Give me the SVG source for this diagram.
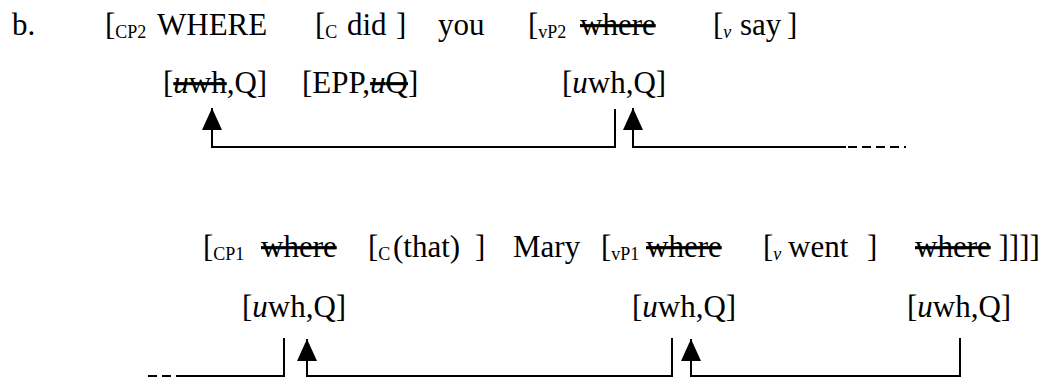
<svg xmlns="http://www.w3.org/2000/svg" width="1047" height="378" viewBox="0 0 1047 378">
<style>
text{font-family:"Liberation Serif","Times New Roman",serif;font-size:31px;fill:#000}
.sub{font-size:18px}
.it{font-style:italic}
.st{text-decoration:line-through}
.ln{fill:none;stroke:#000;stroke-width:2}
.dash{fill:none;stroke:#000;stroke-width:2;stroke-dasharray:9,5}
</style>
<defs>
<marker id="ah" markerUnits="userSpaceOnUse" markerWidth="22" markerHeight="20" viewBox="0 0 22 20" refX="22" refY="10" orient="auto-start-reverse">
<path d="M0,0 L22,10 L0,20 z" fill="#000"/>
</marker>
</defs>
<rect width="1047" height="378" fill="#fff"/>
<g id="label-b"><text x="12" y="35">b.</text></g>
<g id="cp2">
<text x="105" y="35">[<tspan class="sub" dy="3">CP2</tspan><tspan dy="-3" x="157">WHERE</tspan></text>
<text x="163" y="93">[<tspan class="st"><tspan class="it">u</tspan>wh</tspan>,Q]</text>
</g>
<g id="c-did">
<text x="315" y="35">[<tspan class="sub" dy="3">C</tspan><tspan dy="-3" x="347">did</tspan><tspan x="396">]</tspan></text>
<text x="302" y="93">[EPP,<tspan class="st"><tspan class="it">u</tspan>Q</tspan>]</text>
</g>
<g id="you"><text x="438" y="35">you</text></g>
<g id="vp2">
<text x="528" y="35">[<tspan class="sub" dy="3">vP2</tspan><tspan dy="-3" x="580" class="st">where</tspan></text>
<text x="562" y="93">[<tspan class="it">u</tspan>wh,Q]</text>
</g>
<g id="v-say"><text x="713" y="35">[<tspan class="sub it" dy="3">ν</tspan><tspan dy="-3" x="740">say</tspan><tspan x="787">]</tspan></text></g>
<g id="cp1">
<text x="203" y="257">[<tspan class="sub" dy="3">CP1</tspan><tspan dy="-3" x="261" class="st">where</tspan></text>
<text x="242" y="317">[<tspan class="it">u</tspan>wh,Q]</text>
</g>
<g id="c-that"><text x="368" y="257">[<tspan class="sub" dy="3">C</tspan><tspan dy="-3" x="393">(that)</tspan><tspan x="475">]</tspan></text></g>
<g id="mary"><text x="513" y="257">Mary</text></g>
<g id="vp1">
<text x="601" y="257">[<tspan class="sub" dy="3">vP1</tspan><tspan dy="-3" x="646" class="st">where</tspan></text>
<text x="632" y="317">[<tspan class="it">u</tspan>wh,Q]</text>
</g>
<g id="v-went"><text x="763" y="257">[<tspan class="sub it" dy="3">ν</tspan><tspan dy="-3" x="788">went</tspan><tspan x="867">]</tspan></text></g>
<g id="where-base">
<text x="915" y="257"><tspan class="st">where</tspan> ]]]]</text>
<text x="907" y="317">[<tspan class="it">u</tspan>wh,Q]</text>
</g>
<g id="connectors">
<path class="ln" d="M212,108 V147 H615 V109" marker-start="url(#ah)"/>
<path class="ln" d="M633,108 V147 H846" marker-start="url(#ah)"/>
<path class="dash" d="M848,147 H906"/>
<path class="dash" d="M148,376 H183"/>
<path class="ln" d="M183,376 H284 V338"/>
<path class="ln" d="M307,339 V376 H672 V338" marker-start="url(#ah)"/>
<path class="ln" d="M691,339 V376 H960 V338" marker-start="url(#ah)"/>
</g>
</svg>
